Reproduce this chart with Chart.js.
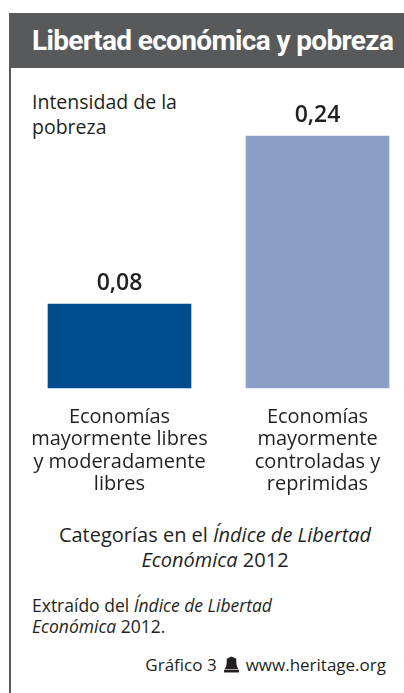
<!DOCTYPE html>
<html>
<head>
<meta charset="utf-8">
<script src="https://cdn.jsdelivr.net/npm/chart.js@4.4.1/dist/chart.umd.min.js"></script>
<style>
  body { margin: 0; background: #fff; font-family: "Open Sans", sans-serif; color: #231f20; }
  #frame { position: absolute; left: 9px; top: 13px; width: 395px; height: 680px; border-left: 2px solid #58595b; }
  #title { position: absolute; left: 0; top: 0; width: 395px; height: 55px; background: #58595b; color: #fff;
           font-family: Roboto, sans-serif; font-weight: 700; font-size: 28px; line-height: 55px; padding-left: 21px;
           box-sizing: border-box; letter-spacing: -0.65px; white-space: nowrap; }
  .txt { position: absolute; white-space: nowrap; }
  #ylab { left: 32px; top: 89px; font-size: 19.5px; line-height: 25px; }
  #xlab { left: 0; width: 430px; top: 522px; font-size: 20px; line-height: 25px; text-align: center; }
  #src { left: 32px; top: 595px; font-size: 17.5px; line-height: 21px; }
  #credit { right: 18px; top: 652px; font-size: 17px; line-height: 26px; }
  #credit svg { vertical-align: -2px; margin: 0 7px 0 7px; }
  #wrap { position: absolute; left: 0; top: 68px; width: 404px; height: 432px; }
</style>
</head>
<body>
<div id="frame"><div id="title">Libertad económica y pobreza</div></div>
<div class="txt" id="ylab">Intensidad de la<br>pobreza</div>
<div id="wrap"><canvas id="chart"></canvas></div>
<div class="txt" id="xlab">Categorías en el <i>Índice de Libertad</i><br><i>Económica</i> 2012</div>
<div class="txt" id="src">Extraído del <i>Índice de Libertad</i><br><i>Económica</i> 2012.</div>
<div class="txt" id="credit">Gráfico 3<svg width="15" height="17" viewBox="0 0 14 16"><path d="M7 0.5 L2.5 2.5 L2.5 6 Q2.5 10 0.5 12.5 L13.5 12.5 Q11.5 10 11.5 6 L11.5 2.5 Z" fill="#231f20"/><rect x="0" y="13" width="14" height="2.5" fill="#231f20"/></svg>www.heritage.org</div>
<script>
// Datos del gráfico
const categorias = [
    ['Economías', 'mayormente libres', 'y moderadamente', 'libres'],
    ['Economías', 'mayormente', 'controladas y', 'reprimidas']
];
const intensidad = [0.08, 0.24];
const colores = ['#004b8d', '#8b9fc9'];

const etiquetasValor = {
    id: 'etiquetasValor',
    afterDatasetsDraw(chart) {
        const ctx = chart.ctx;
        const meta = chart.getDatasetMeta(0);
        ctx.save();
        ctx.font = '600 23px "Open Sans"';
        ctx.fillStyle = '#231f20';
        ctx.textAlign = 'center';
        ctx.textBaseline = 'middle';
        meta.data.forEach((bar, i) => {
            ctx.fillText(intensidad[i].toFixed(2).replace('.', ','), bar.x, bar.y - 21);
        });
        ctx.restore();
    }
};

new Chart(document.getElementById('chart'), {
    type: 'bar',
    data: {
        labels: categorias,
        datasets: [{
            data: intensidad,
            backgroundColor: colores,
            barThickness: 143,
            clip: false
        }]
    },
    options: {
        responsive: true,
        maintainAspectRatio: false,
        animation: false,
        layout: { padding: { top: 68, left: 119.5, right: 86.5, bottom: 0 } },
        plugins: { legend: { display: false }, tooltip: { enabled: false } },
        scales: {
            x: {
                offset: false,
                grid: { display: false },
                border: { display: false },
                ticks: {
                    color: '#231f20',
                    font: { family: 'Open Sans', size: 20, lineHeight: 1.12 },
                    padding: 10,
                    maxRotation: 0,
                    autoSkip: false
                },
                afterFit(scale) { scale.height = 112; }
            },
            y: {
                display: false,
                min: 0,
                max: 0.24
            }
        }
    },
    plugins: [etiquetasValor]
});
</script>
</body>
</html>
